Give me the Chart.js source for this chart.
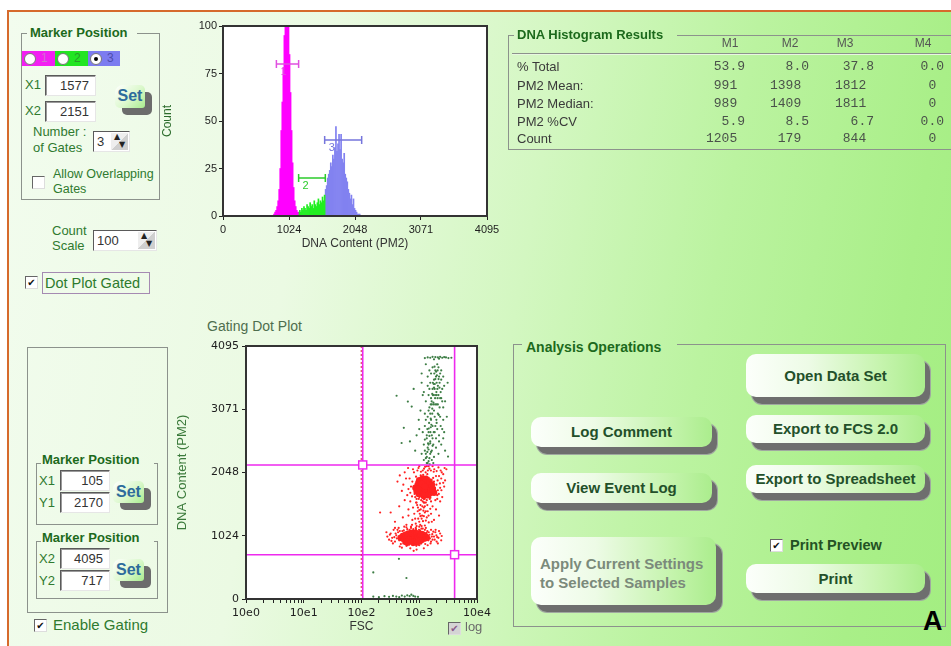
<!DOCTYPE html>
<html><head><meta charset="utf-8">
<script src="https://cdn.jsdelivr.net/npm/chart.js@4.4.1/dist/chart.umd.min.js"></script>
<style>
html,body{margin:0;padding:0}
body{width:951px;height:646px;position:relative;overflow:hidden;background:#fff;font-family:"Liberation Sans",Arial,sans-serif}
#bg{position:absolute;left:7px;top:10px;width:960px;height:650px;border-top:2px solid #d66a2c;border-left:2px solid #d66a2c;
 background:linear-gradient(100deg,#f2fcee 0%,#ebfae3 30%,#d3f7c1 52%,#bbf3a0 70%,#a9ef88 88%,#a2ee80 100%)}
.a{position:absolute;white-space:pre}
.ln{position:absolute;height:1px;background:#8c928c}
.gb{position:absolute;border:1px solid #8c928c;border-top:none}
.gbf{position:absolute;border:1px solid #8c928c}
.gt{position:absolute;font-weight:bold;font-size:13px;line-height:16px;color:#1c6a1c;white-space:pre}
.lb{position:absolute;font-size:13px;line-height:16px;color:#2f7a2f;white-space:pre}
.inp{position:absolute;background:#fff;border:1px solid;border-color:#5a5a5a #e6e6e6 #e6e6e6 #5a5a5a;box-shadow:inset 1px 1px 0 #9a9a9a;
 font-size:13px;color:#333;text-align:right;padding-right:6px;box-sizing:border-box;line-height:19px}
.ss{position:absolute;background:#6c6c6c;border-radius:5px}
.sf{position:absolute;border-radius:8px 5px 3px 5px;background:linear-gradient(135deg,#ffffff 0%,#dbf8cc 55%,#a8ec8e 100%);
 font-weight:bold;font-size:16px;color:#2d6b9c;text-align:center}
.cb{position:absolute;width:11px;height:11px;background:#fff;border:1px solid;border-color:#666 #ddd #ddd #666;font-size:10px;line-height:11px;text-align:center;color:#111;font-family:"DejaVu Sans"}
.rd{position:absolute;width:10px;height:10px;border-radius:50%;background:#fff;border:1px solid #777}
.spin{position:absolute;background:#fff;border:1px solid;border-color:#5a5a5a #e6e6e6 #e6e6e6 #5a5a5a;box-sizing:border-box;font-size:13px;color:#333;line-height:19px;padding-left:3px}
.spb{position:absolute;top:1px;right:1px;width:17px;height:17px;background:linear-gradient(135deg,#eeeeee 50%,#cfcfcf 50%);font-size:8px;line-height:8px;color:#222;font-family:"DejaVu Sans"}
.bs{position:absolute;background:#6e6e6e;border-radius:10px;box-shadow:0 0 0 1px #a0a8a0}
.bf{position:absolute;border-radius:10px;background:linear-gradient(to right,#fcfffb 0%,#edfbe6 35%,#c6f4ae 75%,#abed8d 100%);
 font-weight:bold;font-size:15px;color:#23502a;text-align:center;white-space:pre}
.hd{position:absolute;font-size:12px;line-height:14px;color:#555;text-align:center;width:40px}
.rl{position:absolute;font-size:13px;line-height:16px;color:#3a3a3a;white-space:pre}
.rv{position:absolute;font-family:"Liberation Mono",monospace;font-size:13px;line-height:16px;color:#4a524a;text-align:right;width:60px;white-space:pre}
canvas{position:absolute}
</style></head>
<body>
<div id="bg"></div>

<!-- Marker Position (histogram) -->
<div class="ln" style="left:21px;top:33px;width:6px"></div>
<div class="ln" style="left:137px;top:33px;width:22px"></div>
<div class="gb" style="left:21px;top:33px;width:137px;height:166px"></div>
<div class="gt" style="left:30px;top:25px">Marker Position</div>
<div class="a" style="left:22px;top:51px;width:33px;height:15px;background:#f21ff2"></div>
<div class="a" style="left:55px;top:51px;width:33px;height:15px;background:#22e522"></div>
<div class="a" style="left:88px;top:51px;width:32px;height:15px;background:#7c7cf0"></div>
<div class="rd" style="left:24px;top:53px"></div>
<div class="rd" style="left:57px;top:53px"></div>
<div class="rd" style="left:90px;top:53px"><div class="a" style="left:3px;top:3px;width:4px;height:4px;border-radius:50%;background:#000"></div></div>
<div class="a" style="left:41px;top:51px;font-size:12px;color:#d070d0">1</div>
<div class="a" style="left:74px;top:51px;font-size:12px;color:#2a9a2a">2</div>
<div class="a" style="left:107px;top:51px;font-size:12px;color:#4d4dae">3</div>
<div class="lb" style="left:25px;top:77px">X1</div>
<div class="inp" style="left:45px;top:75px;width:51px;height:21px">1577</div>
<div class="lb" style="left:25px;top:103px">X2</div>
<div class="inp" style="left:45px;top:101px;width:51px;height:21px">2151</div>
<div class="ss" style="left:122px;top:92px;width:30px;height:23px"></div>
<div class="sf" style="left:115px;top:85px;width:30px;height:23px;line-height:22px">Set</div>
<div class="lb" style="left:33px;top:124px">Number :</div>
<div class="lb" style="left:33px;top:140px">of Gates</div>
<div class="spin" style="left:93px;top:131px;width:37px;height:21px">3<div class="spb"><div style="margin-left:3px">▲</div><div style="margin-left:8px">▼</div></div></div>
<div class="cb" style="left:32px;top:176px"></div>
<div class="lb" style="left:53px;top:166px;font-size:12.5px">Allow Overlapping</div>
<div class="lb" style="left:53px;top:181px;font-size:12.5px">Gates</div>
<div class="lb" style="left:52px;top:223px">Count</div>
<div class="lb" style="left:52px;top:238px">Scale</div>
<div class="spin" style="left:93px;top:230px;width:64px;height:21px">100<div class="spb"><div style="margin-left:3px">▲</div><div style="margin-left:8px">▼</div></div></div>
<div class="cb" style="left:25px;top:276px">✔</div>
<div class="a" style="left:42px;top:272px;width:104px;height:20px;border:1px solid #a58ab2;font-size:14.5px;line-height:20px;color:#2d7a2d;padding-left:2px">Dot Plot Gated</div>

<!-- lower-left gating markers -->
<div class="gbf" style="left:27px;top:347px;width:139px;height:264px"></div>
<div class="ln" style="left:36px;top:463px;width:5px"></div>
<div class="ln" style="left:154px;top:463px;width:3px"></div>
<div class="gb" style="left:36px;top:463px;width:120px;height:61px"></div>
<div class="gt" style="left:42px;top:452px">Marker Position</div>
<div class="lb" style="left:39px;top:473px">X1</div>
<div class="inp" style="left:60px;top:470px;width:50px;height:21px">105</div>
<div class="lb" style="left:39px;top:495px">Y1</div>
<div class="inp" style="left:60px;top:492px;width:50px;height:21px">2170</div>
<div class="ss" style="left:120px;top:488px;width:31px;height:22px"></div>
<div class="sf" style="left:113px;top:481px;width:31px;height:22px;line-height:21px">Set</div>
<div class="ln" style="left:36px;top:541px;width:5px"></div>
<div class="ln" style="left:154px;top:541px;width:3px"></div>
<div class="gb" style="left:36px;top:541px;width:120px;height:57px"></div>
<div class="gt" style="left:42px;top:530px">Marker Position</div>
<div class="lb" style="left:39px;top:551px">X2</div>
<div class="inp" style="left:60px;top:548px;width:50px;height:21px">4095</div>
<div class="lb" style="left:39px;top:573px">Y2</div>
<div class="inp" style="left:60px;top:570px;width:50px;height:21px">717</div>
<div class="ss" style="left:120px;top:566px;width:31px;height:22px"></div>
<div class="sf" style="left:113px;top:559px;width:31px;height:22px;line-height:21px">Set</div>
<div class="cb" style="left:34px;top:619px">✔</div>
<div class="lb" style="left:53px;top:617px;font-size:15px">Enable Gating</div>

<!-- charts -->
<canvas id="hist" width="360" height="240" style="left:150px;top:14px"></canvas>
<div class="a" style="left:207px;top:318px;font-size:14px;line-height:16px;color:#4e6e4e">Gating Dot Plot</div>
<canvas id="dot" width="340" height="311" style="left:170px;top:335px"></canvas>
<div class="cb" style="left:448px;top:622px;background:#d4d4d4;color:#8a5a8a">✔</div>
<div class="a" style="left:465px;top:619px;font-size:13px;line-height:16px;color:#6a6a6a">log</div>

<!-- results -->
<div class="ln" style="left:508px;top:35px;width:6px"></div>
<div class="ln" style="left:677px;top:35px;width:280px"></div>
<div class="gb" style="left:508px;top:35px;width:460px;height:114px"></div>
<div class="gt" style="left:517px;top:27px">DNA Histogram Results</div>
<div class="ln" style="left:512px;top:53px;width:445px"></div>
<div class="ln" style="left:512px;top:54px;width:445px;background:#e8f8e0"></div>
<div id="results"></div>

<!-- analysis operations -->
<div class="ln" style="left:513px;top:344px;width:9px"></div>
<div class="ln" style="left:677px;top:344px;width:268px"></div>
<div class="gb" style="left:513px;top:344px;width:431px;height:282px"></div>
<div class="gt" style="left:526px;top:339px;font-size:14px">Analysis Operations</div>

<div class="bs" style="left:752px;top:361px;width:178px;height:43px"></div>
<div class="bf" style="left:746px;top:354px;width:179px;height:43px;line-height:43px">Open Data Set</div>
<div class="bs" style="left:752px;top:422px;width:178px;height:28px"></div>
<div class="bf" style="left:746px;top:415px;width:179px;height:28px;line-height:28px">Export to FCS 2.0</div>
<div class="bs" style="left:752px;top:472px;width:178px;height:28px"></div>
<div class="bf" style="left:746px;top:465px;width:179px;height:28px;line-height:28px">Export to Spreadsheet</div>
<div class="bs" style="left:752px;top:571px;width:178px;height:29px"></div>
<div class="bf" style="left:746px;top:564px;width:179px;height:29px;line-height:29px">Print</div>
<div class="bs" style="left:537px;top:424px;width:180px;height:30px"></div>
<div class="bf" style="left:531px;top:417px;width:181px;height:30px;line-height:30px">Log Comment</div>
<div class="bs" style="left:537px;top:480px;width:180px;height:30px"></div>
<div class="bf" style="left:531px;top:473px;width:181px;height:30px;line-height:30px">View Event Log</div>
<div class="bs" style="left:537px;top:544px;width:185px;height:68px"></div>
<div class="bf" style="left:531px;top:537px;width:185px;height:68px;text-align:left;color:#7b8a7b;line-height:19px"><div style="margin:17px 0 0 9px">Apply Current Settings
to Selected Samples</div></div>
<div class="cb" style="left:770px;top:539px">✔</div>
<div class="a" style="left:790px;top:537px;font-weight:bold;font-size:14.5px;line-height:16px;color:#245224">Print Preview</div>
<div class="a" style="left:923px;top:606px;font-weight:bold;font-size:27px;line-height:30px;color:#000">A</div>

<script>
// ---------- histogram data ----------
const binWidth = 16;
const m1Start = 784;
const m1Counts = [1,2,3,5,8,14,25,45,60,78,95,110,120,115,100,85,65,45,28,15,8,5,3,2];
const m2Start = 1168;
const m2Counts = [2,3,2,4,3,5,4,3,6,5,4,7,5,6,4,8,6,5,7,9,6,8,7,10,8,11];
const m3Start = 1584;
const m3Counts = [14,16,20,22,24,28,26,32,30,36,47,34,38,43,35,43,30,28,33,22,20,18,14,12,9,11,6,9,4,3,2,1,1,1];
const histXTicks = [0,1024,2048,3071,4095];
const histYTicks = [0,25,50,75,100];
const gateNames = ['1','2','3'];
const gateLow = [828,1173,1577];
const gateHigh = [1173,1587,2151];
const gateLevel = [80,20,40];

// ---------- results table ----------
const resultCols = ['M1','M2','M3','M4'];
const rowLabels = ['% Total','PM2 Mean:','PM2 Median:','PM2 %CV','Count'];
const pctTotal = ['53.9','8.0','37.8','0.0'];
const pm2Mean = ['991','1398','1812','0'];
const pm2Median = ['989','1409','1811','0'];
const pm2CV = ['5.9','8.5','6.7','0.0'];
const eventCount = ['1205','179','844','0'];

// ---------- dot plot data [FSC, DNA] ----------
const fscMajor = [1,10,100,1000,10000];
const fscMajorLabels = ['10e0','10e1','10e2','10e3','10e4'];
const dnaTicks = [0,1024,2048,3071,4095];
const gateX = [105,4095];
const gateY = [2170,717];

const g1Events = [[280,1010],[300,960],[320,1060],[340,990],[360,1120],[380,930],[400,1030],[410,980],[430,1080],[450,950],[470,1010],[480,890],[500,1050],[520,970],[540,1110],[550,920],[570,1000],[590,1070],[600,860],[620,1130],[640,950],[650,1020],[670,880],[690,1090],[700,990],[720,1150],[740,910],[760,1040],[780,870],[800,1100],[820,960],[840,1060],[860,900],[880,1130],[900,980],[930,1050],[960,880],[990,1120],[1020,940],[1050,1070],[1080,900],[1110,1010],[1150,1140],[1190,930],[1230,1060],[1270,890],[1320,1000],[1380,1100],[1440,950],[1500,1040],[1570,900],[1650,1010],[1750,1090],[1850,960],[1980,1030],[2150,990],[2300,1060],[1400,870],[1200,820],[900,800],[700,820],[500,830],[600,1160],[1000,1170],[1300,1150],[800,780],[1600,1120],[2000,930],[440,1150],[350,900],[270,1080],[390,1060],[460,1100],[1700,960],[1900,1080],[2100,900],[2450,1020],
 [310,1040],[330,940],[370,1000],[420,1120],[440,1010],[490,960],[510,1100],[530,900],[560,1060],[580,940],[610,1080],[630,870],[660,1000],[680,1120],[710,940],[730,1060],[750,880],[770,1000],[790,1130],[830,920],[850,1020],[870,1150],[890,860],[910,1050],[940,900],[970,1030],[1000,870],[1030,1110],[1060,980],[1090,1140],[1130,920],[1170,1060],[1210,1000],[1250,1120],[1290,950],[1340,1070],[1400,1010],[1460,1080],[1530,980],[1600,930],[1680,1050],[1800,1010],[1920,1120],[2050,1000],[2200,1100],[2400,950],[380,1150],[460,850],[550,1170],[720,1170]];
const g1Core = [[480,990],[520,1020],[550,960],[580,1040],[610,990],[640,1010],[660,950],[690,1030],[710,980],[740,1000],[760,1050],[790,960],[810,1010],[840,990],[870,1040],[900,970],[930,1010],[960,990],[1000,1030],[1040,960],[1080,1010],[1120,990],[1170,1040],[1220,980],[1280,1010],[1350,990],[600,920],[700,930],[800,910],[900,920],[1000,930],[650,1060],[750,1070],[850,1070],[950,1060],[1100,1050]];
const midEvents = [[320,1400],[380,1250],[450,1500],[520,1320],[600,1200],[650,1450],[700,1580],[760,1280],[820,1380],[870,1220],[920,1520],[960,1300],[1000,1440],[1040,1200],[1080,1600],[1120,1350],[1160,1260],[1200,1480],[1250,1190],[1300,1560],[1350,1320],[1400,1420],[1460,1240],[1520,1620],[1600,1380],[1700,1500],[1800,1280],[1950,1450],[2200,1350],[2300,1580],[1050,1520],[1150,1640],[980,1620],[880,1560],[1250,1400],[1100,1300],[1020,1380],[1180,1430],[1300,1270],[940,1420],[560,1600],[780,1480],[1650,1250],[2050,1620],[210,1400],[1130,1500],[1230,1560],[1060,1450],[1380,1520],
 [900,1180],[1000,1250],[1100,1180],[1200,1340],[1300,1420],[950,1480],[1050,1340],[1150,1580],[1250,1500],[1350,1600],[850,1300],[750,1200],[650,1350],[1450,1350],[1550,1460]];
const g2Events = [[420,1900],[500,1750],[560,2050],[620,1680],[680,1950],[720,1820],[780,2100],[830,1700],[880,1980],[920,1860],[970,2120],[1010,1650],[1060,2000],[1100,1780],[1150,2080],[1200,1620],[1260,2140],[1320,1690],[1380,2020],[1440,1760],[1500,2110],[1560,1640],[1630,1930],[1700,1720],[1780,2060],[1860,1800],[1950,1990],[2050,1680],[2150,2130],[2280,1870],[2420,1760],[2600,2020],[2800,1920],[2950,2100],[2500,1650],[2200,1990],[650,1780],[900,1620],[1350,2150],[1700,2150],[2350,2080],[750,1660],[1900,1600],[2700,1820],[1120,1950],[1550,1880],[2000,2070],[2400,1950],[1800,1900],[2100,1760],
 [460,2000],[530,1850],[590,1950],[640,2120],[700,1720],[760,1900],[810,2050],[850,1650],[890,1900],[930,2080],[960,1720],[1000,2150],[1040,1680],[1070,2060],[1130,1640],[1170,2010],[1210,2110],[1240,1620],[1290,2050],[1330,1980],[1370,1650],[1410,2080],[1460,1960],[1520,1700],[1590,2080],[1660,1690],[1740,1960],[1820,2100],[1900,1750],[1980,1850],[2080,1920],[2180,1700],[2300,1800],[2450,2050],[2600,1880],[2750,2120],[1600,1580],[1200,1560],[900,1560],[1450,2150]];
const g2Core = [[860,1800],[900,1750],[940,1850],[980,1700],[1020,1800],[1060,1900],[1100,1740],[1140,1830],[1180,1690],[1220,1780],[1260,1880],[1300,1720],[1340,1810],[1380,1760],[1420,1900],[1470,1700],[1520,1820],[1580,1760],[1650,1850],[1720,1780],[1800,1720],[1000,1920],[1150,1950],[1300,1940],[1200,1670],[1400,1680],[1100,1860],[1250,1820],[950,1780],[1500,1900]];
const upperEvents = [[405,3290],[635,3195],[740,3115],[540,2770],[690,2550],[495,2525],[3150,2305],[850,2400],[980,2900],[1100,3500],[1200,2250],[1300,2350],[1400,2450],[1500,2280],[1350,2600],[1450,2700],[1550,2550],[1650,2650],[1250,2800],[1600,2900],[1700,2800],[1400,2950],[1800,3050],[1500,3100],[1900,3150],[1600,3250],[2000,3300],[1700,3400],[2100,3450],[1800,3550],[2200,3600],[1900,3700],[2300,3650],[2000,3500],[1500,3400],[1300,3200],[1250,3000],[1150,2700],[1200,2500],[1100,2350],[1350,2200],[1450,2230],[1650,2400],[1750,2500],[1850,2700],[2000,2850],[2100,3000],[2250,3100],[2400,3250],[2500,3400],[2300,2950],[2600,2600],[2800,2400],[1800,2300],[1950,2450],[1550,3000],[1650,3150],[1750,3300],[1850,3400],[1950,3600],[2150,3750],[2050,3800],[1600,3650],[2400,3550],[2700,3450],[1050,3050],[900,2650],[1400,3600],[1200,3350],[2200,2650],[2500,2750],[1300,3800],[2600,3100],[3000,2950],[1550,2350],[1700,2600],[1850,2950],[2000,3150],[1350,2300],[1450,2420],[1550,2520],[1650,2250],[1380,2750],[1480,2850],[1580,2780],[1680,3000],[1780,3150],[1880,3250],[1980,3350],[2080,3250],[1720,3500],[1820,3650],[2250,3500],[2350,3350],[1450,3300],[1550,3500],[1250,2400],[1750,2200],[2150,2350],[2400,2500],
 [1300,2280],[1380,2380],[1420,2520],[1500,2640],[1460,2760],[1560,2700],[1620,2820],[1580,2920],[1680,3080],[1640,3200],[1760,3180],[1720,3300],[1800,3420],[1860,3480],[1900,3560],[1960,3680],[2020,3620],[1840,3760],[2080,3700],[2160,3560],[2240,3420],[2300,3250],[2100,3150],[2180,2980],[1980,2900],[1900,2800],[1780,2700],[1700,2480],[1600,2380],[1520,2180],[1400,2200],[1950,2600],[2050,2750],[2200,2550],[2350,2800],[1450,2500],[1350,2650],[1300,2900],[1450,3050],[1580,3150],[1680,3320],[1780,3480],[1880,3300],[2060,3400],[2150,3300],[2400,3700],[2600,3600],[2500,3200],[1400,3450],[1500,3700],[1700,3750],[2600,2900],[2800,3200],[3100,3500],[1150,3300],[1000,2750],[1250,2580],[2700,2700],[1100,3650],[800,3400]];
const topEdgeEvents = [[1250,3900],[1400,3910],[1550,3905],[1700,3920],[1900,3915],[2100,3910],[2300,3920],[2500,3905],[2700,3915],[2900,3910],[3200,3900],[3600,3905],[1800,3880],[2200,3890]];
const lowEvents = [[160,40],[200,30],[250,45],[300,35],[350,50],[400,40],[450,30],[500,55],[560,40],[620,60],[680,45],[730,70],[790,50],[850,40],[950,35],[160,430],[600,340],[445,650]];

// ---------- build results table ----------
(function(){
  const root = document.getElementById('results');
  const colCenter = [730,790,845,923];
  const colEdge = [745,809,874,944];
  resultCols.forEach((c,i)=>{
    const d=document.createElement('div'); d.className='hd'; d.textContent=c;
    d.style.left=(colCenter[i]-20)+'px'; d.style.top='36px'; root.appendChild(d);
  });
  const rows=[pctTotal,pm2Mean,pm2Median,pm2CV,eventCount];
  const rowTop=[59,78,96,114,131];
  rows.forEach((r,ri)=>{
    const l=document.createElement('div'); l.className='rl'; l.textContent=rowLabels[ri];
    l.style.left='517px'; l.style.top=rowTop[ri]+'px'; root.appendChild(l);
    r.forEach((v,ci)=>{
      const d=document.createElement('div'); d.className='rv';
      d.textContent = v.indexOf('.')>=0 ? v : v+' ';
      d.style.left=(colEdge[ci]-60)+'px'; d.style.top=rowTop[ri]+'px'; root.appendChild(d);
    });
  });
})();

Chart.defaults.font.family = '"Liberation Sans", Arial, sans-serif';
Chart.defaults.animation = false;

const framePlugin = {
  id:'frame',
  beforeDraw(c){ const a=c.chartArea, x=c.ctx; x.save(); x.fillStyle='#fff'; x.fillRect(a.left,a.top,a.right-a.left,a.bottom-a.top); x.restore(); },
  afterDraw(c){ const a=c.chartArea, x=c.ctx; x.save(); x.strokeStyle='#333'; x.lineWidth=2; x.strokeRect(a.left,a.top,a.right-a.left,a.bottom-a.top); x.restore(); }
};

function bins(start, counts){ return counts.map((v,i)=>({x:start+i*binWidth+binWidth/2, y:v})); }
const plain = v => String(v);

const gateColors=['#e050e0','#2ccc2c','#7676dc'];
const gatePlugin = {
  id:'gates',
  afterDatasetsDraw(c){
    const {ctx, scales:{x,y}} = c;
    ctx.save();
    gateLow.forEach((lo,i)=>{
      const x1=x.getPixelForValue(lo), x2=x.getPixelForValue(gateHigh[i]), yy=y.getPixelForValue(gateLevel[i]);
      ctx.strokeStyle=gateColors[i]; ctx.lineWidth=1.5;
      ctx.beginPath(); ctx.moveTo(x1,yy); ctx.lineTo(x2,yy);
      ctx.moveTo(x1,yy-4); ctx.lineTo(x1,yy+4); ctx.moveTo(x2,yy-4); ctx.lineTo(x2,yy+4); ctx.stroke();
      ctx.fillStyle=gateColors[i]; ctx.font='11px "Liberation Sans"'; ctx.textBaseline='top';
      ctx.fillText(gateNames[i], x1+4, yy+2);
    });
    ctx.restore();
  }
};

const tickFontH = {size:11, family:'"Liberation Sans", Arial'};
new Chart(document.getElementById('hist'), {
  type:'bar',
  data:{datasets:[
    {data:bins(m1Start,m1Counts), backgroundColor:'#ff00ff'},
    {data:bins(m2Start,m2Counts), backgroundColor:'#22ee22'},
    {data:bins(m3Start,m3Counts), backgroundColor:'#8282f0'}
  ]},
  options:{
    responsive:false, devicePixelRatio:1,
    layout:{padding:{left:0,right:23,top:12,bottom:0}},
    plugins:{legend:{display:false}, tooltip:{enabled:false}},
    datasets:{bar:{barPercentage:1, categoryPercentage:1, borderWidth:0, grouped:false}},
    scales:{
      x:{type:'linear', min:0, max:4095, offset:false,
        afterBuildTicks:s=>{s.ticks=histXTicks.map(v=>({value:v}));},
        afterFit:s=>{s.height=38;},
        grid:{drawOnChartArea:false, offset:false, tickLength:4, color:'#222'},
        border:{display:false},
        ticks:{padding:3, font:tickFontH, color:'#1e1e1e', maxRotation:0, autoSkip:false, callback:plain},
        title:{display:true, text:'DNA Content (PM2)', color:'#333', font:{size:12}, padding:{top:0,bottom:3}}},
      y:{min:0, max:100,
        afterBuildTicks:s=>{s.ticks=histYTicks.map(v=>({value:v}));},
        afterFit:s=>{s.width=73;},
        grid:{drawOnChartArea:false, tickLength:4, color:'#222'},
        border:{display:false},
        ticks:{padding:2, font:tickFontH, color:'#1e1e1e', callback:plain},
        title:{display:true, text:'Count', color:'#2b6b2b', font:{size:12}, padding:{top:10,bottom:0}}}
    }
  },
  plugins:[framePlugin, gatePlugin]
});

// ---------- dot plot ----------
const fscTicks = [];
for (let d=0; d<4; d++) for (let m=1; m<10; m++) fscTicks.push(m*fscMajor[d]);
fscTicks.push(fscMajor[4]);
const xy = a => a.map(p=>({x:p[0], y:p[1]}));

const dotGatePlugin = {
  id:'dotgates',
  afterDatasetsDraw(c){
    const {ctx, chartArea:a, scales:{x,y}} = c;
    ctx.save();
    const vx1=x.getPixelForValue(gateX[0]), vx2=x.getPixelForValue(gateX[1]);
    const hy1=y.getPixelForValue(gateY[0]), hy2=y.getPixelForValue(gateY[1]);
    ctx.strokeStyle='#ee2aee'; ctx.lineWidth=1.6;
    ctx.beginPath();
    ctx.moveTo(vx1,a.top); ctx.lineTo(vx1,a.bottom);
    ctx.moveTo(vx2,a.top); ctx.lineTo(vx2,a.bottom);
    ctx.moveTo(a.left,hy1); ctx.lineTo(a.right,hy1);
    ctx.moveTo(a.left,hy2); ctx.lineTo(a.right,hy2);
    ctx.stroke();
    ctx.strokeStyle='#d8204a'; ctx.lineWidth=1; ctx.setLineDash([2,2]);
    ctx.beginPath(); ctx.moveTo(vx1-1.5,a.top); ctx.lineTo(vx1-1.5,a.bottom); ctx.stroke();
    ctx.setLineDash([]);
    ctx.fillStyle='#fff'; ctx.strokeStyle='#ee2aee'; ctx.lineWidth=1.5;
    [[vx1,hy1],[vx2,hy2]].forEach(p=>{ ctx.fillRect(p[0]-4,p[1]-4,8,8); ctx.strokeRect(p[0]-4,p[1]-4,8,8); });
    ctx.restore();
  }
};

const red='#ff2222', grn='#3d7d45';
const tickFontD = {size:11, family:'"DejaVu Sans"'};
new Chart(document.getElementById('dot'), {
  type:'scatter',
  data:{datasets:[
    {data:xy(g1Events), pointRadius:1.1, backgroundColor:red},
    {data:xy(g1Core), pointRadius:3.3, backgroundColor:red},
    {data:xy(midEvents), pointRadius:1.1, backgroundColor:red},
    {data:xy(g2Events), pointRadius:1.1, backgroundColor:red},
    {data:xy(g2Core), pointRadius:3.3, backgroundColor:red},
    {data:xy(upperEvents), pointRadius:1.1, backgroundColor:grn},
    {data:xy(topEdgeEvents), pointRadius:1.1, backgroundColor:grn},
    {data:xy(lowEvents), pointRadius:1.1, backgroundColor:grn}
  ]},
  options:{
    responsive:false, devicePixelRatio:1,
    layout:{padding:{left:0,right:33,top:11,bottom:0}},
    plugins:{legend:{display:false}, tooltip:{enabled:false}},
    elements:{point:{borderWidth:0, hoverRadius:0}},
    scales:{
      x:{type:'logarithmic', min:1, max:10000,
        afterBuildTicks:s=>{s.ticks=fscTicks.map(v=>({value:v}));},
        afterFit:s=>{s.height=47;},
        grid:{drawOnChartArea:false, tickLength:4, color:'#222'},
        border:{display:false},
        ticks:{padding:4, font:tickFontD, color:'#1e1e1e', maxRotation:0, autoSkip:false,
          callback:(v)=>{ const i=fscMajor.indexOf(v); return i>=0 ? fscMajorLabels[i] : ''; }},
        title:{display:true, text:'FSC', color:'#333', font:{size:12}, padding:{top:0,bottom:12}}},
      y:{min:0, max:4095,
        afterBuildTicks:s=>{s.ticks=dnaTicks.map(v=>({value:v}));},
        afterFit:s=>{s.width=76;},
        grid:{drawOnChartArea:false, tickLength:4, color:'#222'},
        border:{display:false},
        ticks:{padding:3, font:tickFontD, color:'#1e1e1e', callback:plain},
        title:{display:true, text:'DNA Content (PM2)', color:'#3b7a3b', font:{size:13}, padding:{top:5,bottom:0}}}
    }
  },
  plugins:[framePlugin, dotGatePlugin]
});
</script>
</body></html>
